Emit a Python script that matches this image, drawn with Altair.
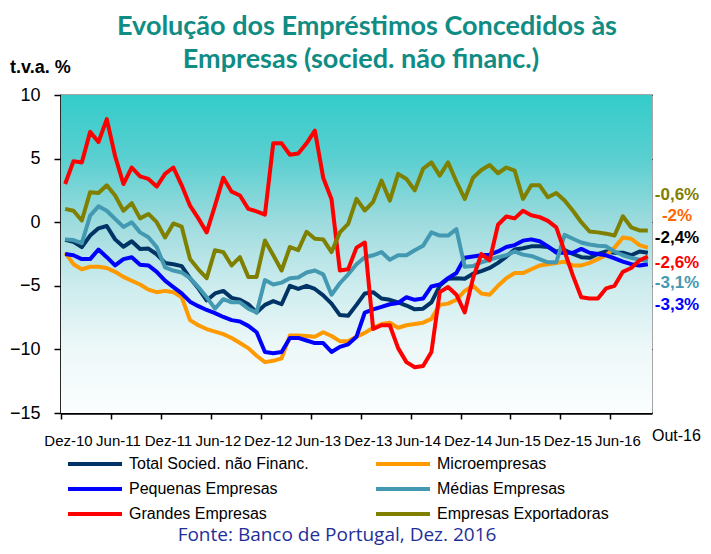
import json
import altair as alt
import pandas as pd

# ---------------- data (monthly, Dez-10 .. Out-16, 71 months) ----------------
series_names = ["Total Socied. não Financ.", "Microempresas", "Pequenas Empresas",
                "Médias Empresas", "Grandes Empresas", "Empresas Exportadoras"]
series_colors = ["#003366", "#FF9900", "#0000FF", "#4499B2", "#FF0000", "#808000"]

total = [-1.38, -1.55, -1.96, -1.05, -0.48, -0.3, -1.35, -1.93, -1.5, -2.1, -2.07, -2.52,
         -3.2, -3.3, -3.45, -4.4, -5.2, -6.15, -5.6, -5.4, -5.95, -6.1, -6.45, -7.1,
         -6.5, -6.2, -6.45, -5.0, -5.25, -5.0, -5.25, -5.75, -6.4, -7.3, -7.35, -6.5,
         -5.6, -5.5, -6.0, -6.1, -6.3, -6.55, -6.85, -6.8, -6.3, -5.0, -4.45, -4.4,
         -4.45, -4.05, -3.85, -3.6, -3.2, -2.7, -2.15, -2.05, -1.9, -1.9, -1.95, -2.3,
         -2.2, -2.5, -2.75, -2.8, -2.5, -2.3, -2.4, -2.4, -2.6, -2.3, -2.4]
micro = [-2.4, -3.3, -3.7, -3.5, -3.5, -3.6, -3.9, -4.3, -4.6, -4.9, -5.3, -5.5,
         -5.4, -5.5, -5.9, -7.7, -8.1, -8.4, -8.6, -8.8, -9.1, -9.5, -9.9, -10.5,
         -11.0, -10.9, -10.7, -8.9, -8.9, -8.95, -9.0, -8.65, -8.95, -9.35, -9.35, -9.0,
         -8.7, -8.3, -8.0, -7.9, -8.3, -8.1, -8.0, -7.9, -7.6, -6.5, -6.4, -6.1,
         -5.4, -5.0, -5.6, -5.7, -5.0, -4.4, -4.0, -4.0, -3.7, -3.4, -3.3, -3.2,
         -3.1, -3.4, -3.4, -3.2, -2.9, -2.6, -2.0, -1.2, -1.3, -1.8, -2.0]
pequenas = [-2.5, -2.6, -2.9, -2.9, -2.15, -2.75, -3.4, -2.9, -2.75, -3.35, -3.4, -3.9,
            -4.6, -5.1, -5.6, -6.25, -6.6, -6.9, -7.15, -7.45, -7.7, -7.8, -8.15, -8.65,
            -10.2, -10.3, -10.2, -9.1, -9.1, -9.3, -9.5, -9.5, -10.2, -9.8, -9.6, -9.0,
            -7.1, -6.85, -6.65, -6.45, -6.35, -5.9, -6.1, -6.0, -5.05, -4.9, -4.4, -4.0,
            -2.8, -2.7, -2.6, -2.55, -2.3, -1.95, -1.8, -1.45, -1.35, -1.5, -1.9, -2.4,
            -2.4, -2.4, -2.1, -2.4, -2.5, -2.6, -2.85, -3.1, -3.3, -3.4, -3.3]
medias = [-1.35, -1.4, -1.65, 0.52, 1.25, 0.9, 0.26, -0.37, 0.0, -0.8, -1.18, -1.96,
          -3.55, -3.8, -3.95, -4.4, -5.1, -5.9, -6.8, -6.05, -6.3, -6.3, -6.8, -7.1,
          -4.55, -4.9, -4.75, -4.4, -4.35, -3.95, -3.8, -4.1, -5.7, -4.8, -4.1, -3.3,
          -2.75, -2.6, -2.35, -2.95, -2.6, -2.6, -2.2, -1.85, -0.8, -1.05, -1.05, -0.55,
          -3.5, -3.45, -3.15, -2.95, -2.75, -2.6, -2.3, -2.55, -2.65, -2.9, -3.15, -3.15,
          -1.0, -1.3, -1.6, -1.75, -1.85, -1.9, -2.3, -2.6, -2.8, -2.95, -3.05]
grandes = [3.0, 4.8, 4.7, 7.1, 6.3, 8.1, 5.2, 3.0, 4.3, 3.6, 3.4, 2.8,
           3.8, 4.3, 2.9, 1.3, 0.3, -0.8, 1.3, 3.5, 2.4, 2.1, 1.05, 0.85,
           0.6, 6.2, 6.2, 5.3, 5.4, 6.2, 7.2, 3.5, 1.8, -3.8, -3.7, -2.0,
           -1.6, -8.4, -8.1, -8.1, -9.9, -11.0, -11.4, -11.3, -10.2, -5.5, -5.1, -5.7,
           -7.1, -4.4, -2.5, -3.0, -0.2, 0.45, 0.3, 0.9, 0.55, 0.4, 0.1, -0.4,
           -2.3, -4.2, -5.9, -6.0, -6.0, -5.2, -5.0, -3.9, -3.6, -3.0, -2.7]
exportadoras = [1.05, 0.9, 0.13, 2.36, 2.3, 2.9, 2.1, 0.9, 1.5, 0.3, 0.65, 0.0,
                -1.2, -0.1, -0.35, -2.9, -3.7, -4.4, -2.2, -2.35, -3.4, -2.75, -4.3, -4.3,
                -1.44, -2.6, -3.8, -1.95, -2.2, -0.75, -1.3, -1.35, -2.35, -0.8, -0.13, 1.83,
                0.92, 1.6, 3.27, 1.7, 3.8, 3.4, 2.5, 4.2, 4.7, 3.66, 4.7, 3.2,
                1.83, 3.5, 4.1, 4.5, 3.85, 4.3, 4.05, 1.83, 2.9, 2.9, 1.96, 2.3,
                1.7, 0.9, 0.0, -0.73, -0.8, -0.9, -1.05, 0.47, -0.4, -0.65, -0.65]

tick_labels = ["Dez-10", "Jun-11", "Dez-11", "Jun-12", "Dez-12", "Jun-13",
               "Dez-13", "Jun-14", "Dez-14", "Jun-15", "Dez-15", "Jun-16"]
last_label = "Out-16"

end_texts = ["-0,6%", "-2%", "-2,4%", "-2,6%", "-3,1%", "-3,3%"]
end_colors = ["#808000", "#FF6600", "#000000", "#FF0000", "#4499B2", "#0000FF"]
end_text_y = [2.1, 0.45, -1.28, -3.17, -4.8, -6.54]   # label placement on value axis

all_series = [total, micro, pequenas, medias, grandes, exportadoras]
n = len(total)

rows = []
for name, vals in zip(series_names, all_series):
    for i, v in enumerate(vals):
        rows.append({"pos": i + 0.5, "value": v, "series": name})
df = pd.DataFrame(rows)

# legend is filled column by column (3 rows x 2 columns)
legend_order = [0, 2, 4, 1, 3, 5]
dom = [series_names[k] for k in legend_order]
rng = [series_colors[k] for k in legend_order]

W, H = 591, 318
XDOM = [0, n]
YDOM = [-15, 10]

xscale = alt.Scale(domain=XDOM, nice=False, zero=False)
yscale = alt.Scale(domain=YDOM, nice=False, zero=False)

label_expr = json.dumps(tick_labels) + "[round(datum.value / 6)]"

# background gradient
bg = alt.Chart(pd.DataFrame({"top": [YDOM[1]], "bottom": [YDOM[0]]})).mark_rect(
    color=alt.LinearGradient(
        gradient="linear", x1=0, x2=0, y1=0, y2=1,
        stops=[alt.GradientStop(offset=0.0, color="#33CCCA"),
               alt.GradientStop(offset=0.2, color="#5ACFD0"),
               alt.GradientStop(offset=0.4, color="#9DDBDE"),
               alt.GradientStop(offset=0.6, color="#CDECEE"),
               alt.GradientStop(offset=0.8, color="#EEF8F9"),
               alt.GradientStop(offset=1.0, color="#FBFEFE")]),
).encode(
    x=alt.value(0), x2=alt.value("width"),
    y=alt.Y("top:Q", scale=yscale), y2="bottom:Q",
)

lines = alt.Chart(df).mark_line(strokeWidth=4, strokeJoin="round").encode(
    x=alt.X("pos:Q", scale=xscale, title=None,
            axis=alt.Axis(values=list(range(0, 67, 6)), labelExpr=label_expr,
                          grid=False, tickSize=6, tickColor="black", tickWidth=1.5,
                          domainColor="black", domainWidth=2.5,
                          labelFont="Liberation Sans", labelFontSize=15,
                          labelColor="black", labelPadding=14, labelOffset=7,
                          labelOverlap=False, labelFlush=False)),
    y=alt.Y("value:Q", scale=yscale, title=None,
            axis=alt.Axis(values=[-15, -10, -5, 0, 5, 10], grid=True,
                          gridColor="black", gridDash=[4, 3], gridWidth=1,
                          tickSize=7, tickColor="black", tickWidth=1.5,
                          domainColor="black", domainWidth=2.5,
                          labelFont="Liberation Sans", labelFontSize=18,
                          labelColor="black", labelPadding=14)),
    color=alt.Color("series:N",
                    scale=alt.Scale(domain=dom, range=rng),
                    legend=alt.Legend(title=None, orient="none", legendX=5, legendY=359,
                                      columns=2, symbolType="M-1,0H5.75", symbolSize=256,
                                      symbolStrokeWidth=4, labelFont="Liberation Sans",
                                      labelFontSize=16, labelColor="black", labelLimit=400,
                                      labelOffset=43, columnPadding=59, rowPadding=7)),
)

end_df = pd.DataFrame({"t": end_texts, "c": end_colors, "y": end_text_y})
end_labels = alt.Chart(end_df).mark_text(
    font="Liberation Sans", fontSize=17, fontWeight="bold", align="center", baseline="middle"
).encode(
    x=alt.value(W + 25), y=alt.Y("y:Q", scale=yscale),
    text="t:N", color=alt.Color("c:N", scale=None),
)

def txt(s, x, y, baseline="middle", **kw):
    return alt.Chart(pd.DataFrame({"t": [s]})).mark_text(baseline=baseline, **kw).encode(
        x=alt.value(x), y=alt.value(y), text="t:N")

title1 = txt("Evolução dos Empréstimos Concedidos às", 306, -68, font="Lato",
             fontSize=27, fontWeight="bold", color="#0F8C83", align="center")
title2 = txt("Empresas (socied. não financ.)", 300, -35, font="Lato",
             fontSize=27, fontWeight="bold", color="#0F8C83", align="center")
unit = txt("t.v.a. %", -51, -27, font="Liberation Sans", fontSize=18,
           fontWeight="bold", color="black", align="left")
out16 = txt(last_label, W, 341, font="Liberation Sans", fontSize=16,
            color="black", align="left")
source = txt("Fonte: Banco de Portugal,  Dez. 2016", 276, 446, baseline="alphabetic",
             font="Open Sans", fontSize=19, color="#1F2F99", align="center")

chart = alt.layer(bg, lines, end_labels, title1, title2, unit, out16, source).properties(
    width=W, height=H,
    autosize=alt.AutoSizeParams(type="none"),
    padding={"left": 53, "top": 87, "right": 51, "bottom": 133},
).configure_view(stroke="#888888", strokeWidth=1.5)

chart.save("out.html", embed_options={"renderer": "svg", "actions": False})
